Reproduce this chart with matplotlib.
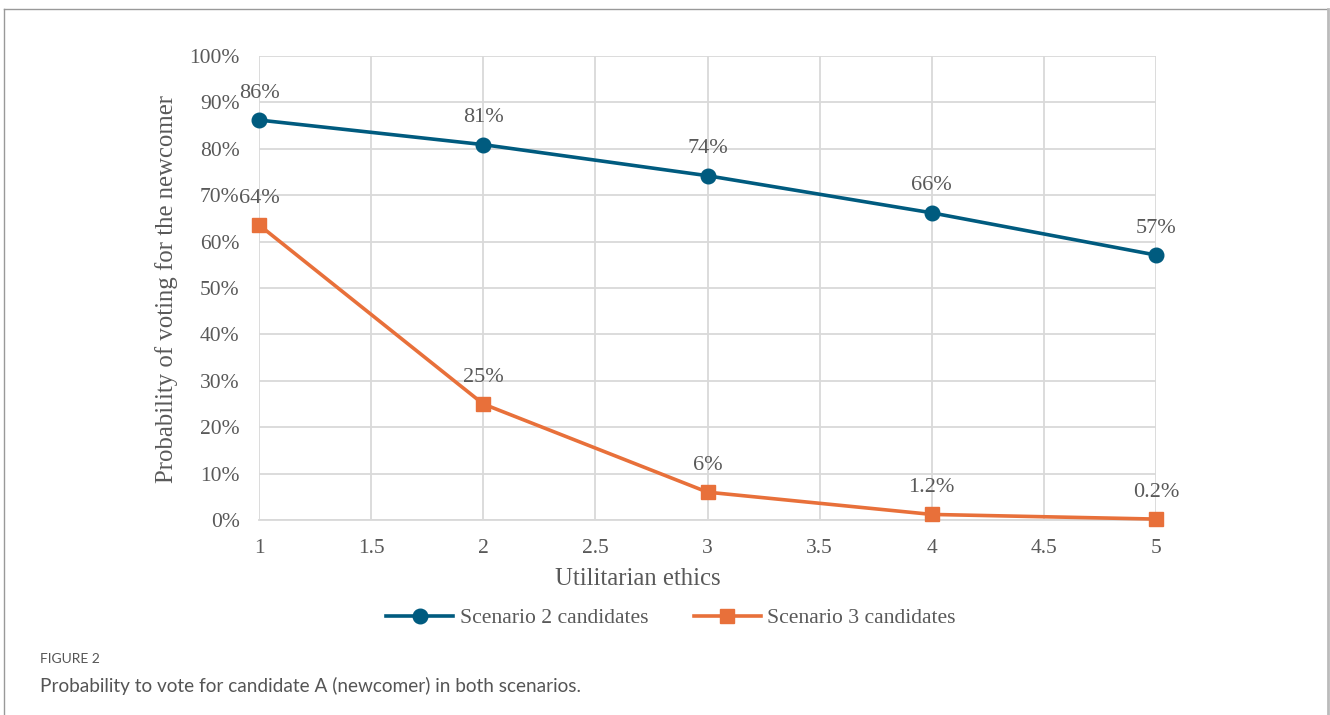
import matplotlib
matplotlib.use("Agg")
import matplotlib.pyplot as plt
from matplotlib.lines import Line2D

# data
ethics = [1, 2, 3, 4, 5]
scenario2 = [86.2, 80.9, 74.2, 66.2, 57.1]
scenario3 = [63.6, 25.0, 6.0, 1.2, 0.2]
labels2 = ["86%", "81%", "74%", "66%", "57%"]
labels3 = ["64%", "25%", "6%", "1.2%", "0.2%"]
yticks = [0, 10, 20, 30, 40, 50, 60, 70, 80, 90, 100]
xticks = [1, 1.5, 2, 2.5, 3, 3.5, 4, 4.5, 5]

blue = "#005B7F"
orange = "#E8703A"
txt = "#595959"
grid = "#D9D9D9"
serif = "Liberation Serif"

W, H = 1330, 715
fig = plt.figure(figsize=(W / 100, H / 100), dpi=100)
ax = fig.add_axes([259 / W, 1 - 520 / H, (1156 - 259) / W, (520 - 56) / H])

ax.plot(ethics, scenario2, color=blue, lw=2.6, marker="o", ms=10.5,
        label="Scenario 2 candidates", clip_on=False, zorder=3)
ax.plot(ethics, scenario3, color=orange, lw=2.6, marker="s", ms=9.5,
        label="Scenario 3 candidates", clip_on=False, zorder=3)

for x, y, s in zip(ethics, scenario2, labels2):
    ax.annotate(s, (x, y), xytext=(0, 12.5), textcoords="offset points",
                ha="center", va="bottom", fontsize=16, color=txt, family=serif)
for x, y, s in zip(ethics, scenario3, labels3):
    ax.annotate(s, (x, y), xytext=(0, 12.5), textcoords="offset points",
                ha="center", va="bottom", fontsize=16, color=txt, family=serif)

ax.set_xlim(1, 5)
ax.set_ylim(0, 100)
ax.set_xticks(xticks)
ax.set_xticklabels([f"{t:g}" for t in xticks])
ax.set_yticks(yticks)
ax.set_yticklabels([f"{t}%" for t in yticks])
ax.tick_params(length=0, labelsize=15.5, labelcolor=txt, pad=14)
for lab in ax.get_xticklabels() + ax.get_yticklabels():
    lab.set_family(serif)
ax.grid(True, color=grid, lw=1.3)
ax.set_axisbelow(True)
for side in ["top", "right", "left"]:
    ax.spines[side].set_visible(False)
ax.spines["bottom"].set_color(grid)
ax.spines["bottom"].set_linewidth(1.3)

fig.text(167 / W, 1 - 289 / H, "Probability of voting for the newcomer",
         rotation=90, ha="center", va="center", fontsize=17.8, color=txt, family=serif)
fig.text(638 / W, 1 - 579 / H, "Utilitarian ethics", ha="center", va="center",
         fontsize=17.8, color=txt, family=serif)

leg = fig.legend(loc="center", bbox_to_anchor=(671 / W, 1 - 618 / H), ncol=2,
                 frameon=False, fontsize=15.6, handlelength=3.1,
                 columnspacing=2.1, handletextpad=0.3)
for t in leg.get_texts():
    t.set_color(txt)
    t.set_family(serif)

# caption
fig.text(40 / W, 1 - 659 / H, "FIGURE 2", fontsize=10, color="#555555",
         family="Lato", va="center")
fig.text(40 / W, 1 - 686 / H,
         "Probability to vote for candidate A (newcomer) in both scenarios.",
         fontsize=13.7, color="#555555", family="Lato", va="center")

# outer frame
fig.add_artist(Line2D([4 / W, 1327 / W], [1 - 9 / H, 1 - 9 / H], color="#999999", lw=1,
                      transform=fig.transFigure))
fig.add_artist(Line2D([4 / W, 4 / W], [1 - 9 / H, 0], color="#999999", lw=1,
                      transform=fig.transFigure))
fig.add_artist(Line2D([1327.5 / W, 1327.5 / W], [1 - 9 / H, 0], color="#BBBBBB", lw=2,
                      transform=fig.transFigure))

fig.savefig("out.png", dpi=100)
